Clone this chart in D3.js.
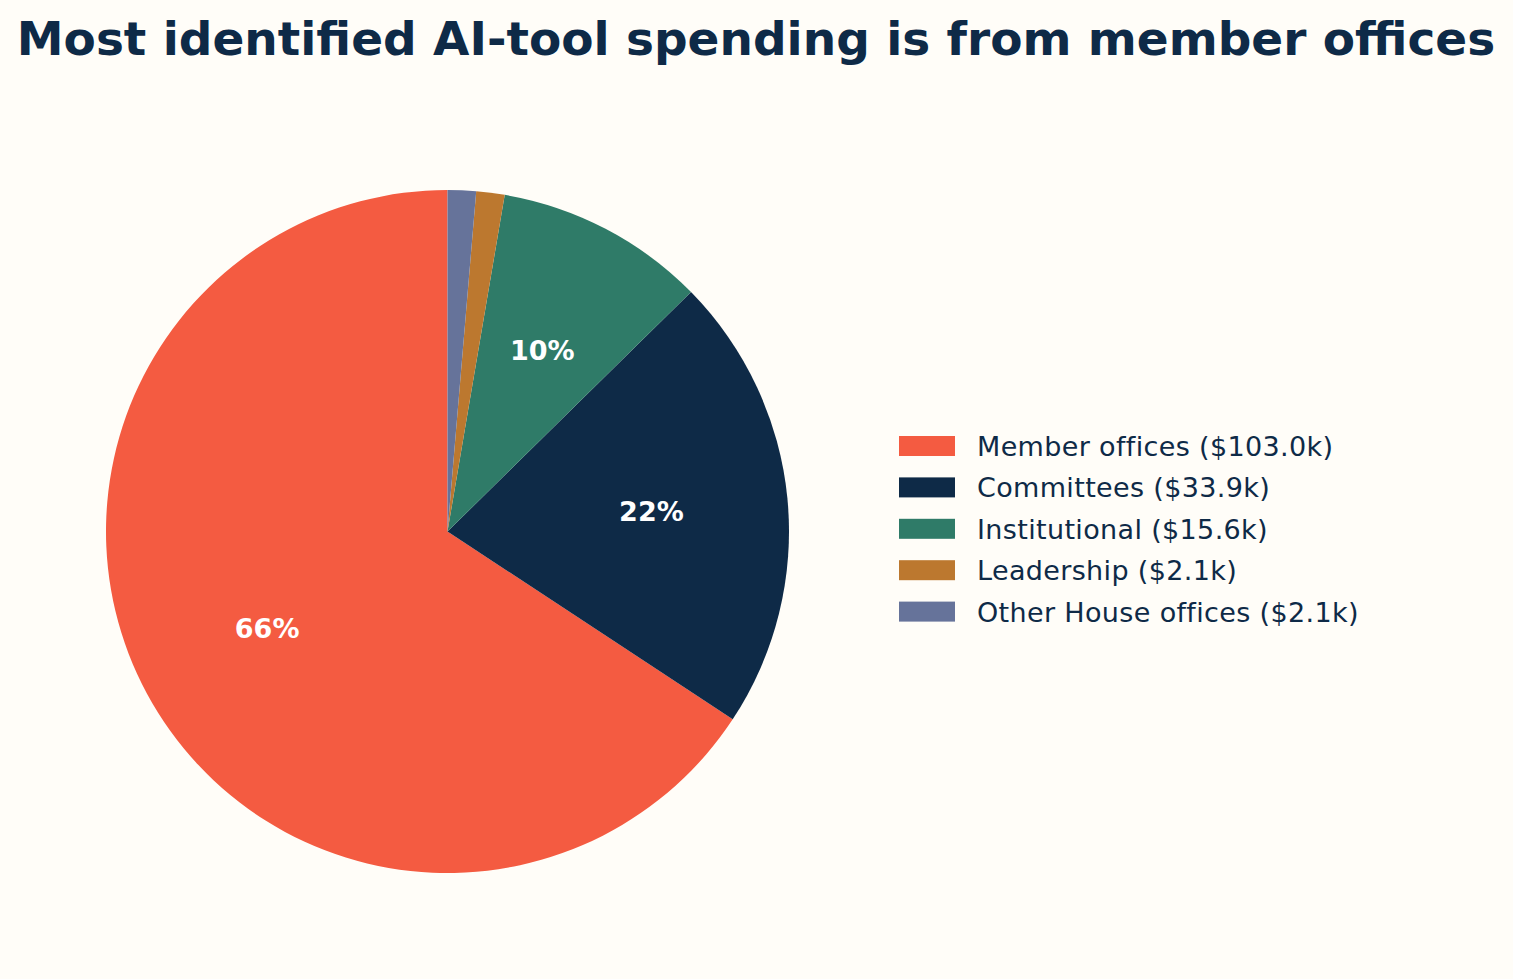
<!DOCTYPE html>
<html>
<head>
<meta charset="utf-8">
<script src="https://cdn.jsdelivr.net/npm/d3@7"></script>
<style>
  html, body { margin: 0; padding: 0; background: #fffdf8; }
  svg { display: block; }
</style>
</head>
<body>
<svg id="chart" width="1513" height="979"></svg>
<script>
// data
const categories = ["Member offices", "Committees", "Institutional", "Leadership", "Other House offices"];
const spending = [103.0, 33.9, 15.6, 2.1, 2.1]; // $k
const colors = ["#f45b41", "#0e2a47", "#2f7b68", "#bc782f", "#66739a"];

const W = 1513, H = 979;
const svg = d3.select("#chart");
const ink = "#0e2a47";

svg.append("rect").attr("width", W).attr("height", H).attr("fill", "#fffdf8");

svg.append("text")
  .attr("x", 756).attr("y", 55)
  .attr("text-anchor", "middle")
  .style("font", "bold 47px 'DejaVu Sans'")
  .attr("fill", ink)
  .text("Most identified AI-tool spending is from member offices");

const cx = 447.5, cy = 531.5, R = 341.5;
const total = d3.sum(spending);

// matplotlib style: start at 12 o'clock, go counter-clockwise
const pie = d3.pie().sort(null).startAngle(0).endAngle(-2 * Math.PI);
const arcs = pie(spending);
const arc = d3.arc().innerRadius(0).outerRadius(R);
const labelArc = d3.arc().innerRadius(R * 0.6).outerRadius(R * 0.6);

const g = svg.append("g").attr("transform", `translate(${cx},${cy})`);
g.selectAll("path.slice")
  .data(arcs)
  .join("path")
  .attr("class", "slice")
  .attr("d", arc)
  .attr("fill", (d, i) => colors[i]);

g.selectAll("text.pct")
  .data(arcs.filter(d => d.value / total >= 0.03))
  .join("text")
  .attr("class", "pct")
  .attr("transform", d => `translate(${labelArc.centroid(d)})`)
  .attr("text-anchor", "middle")
  .attr("dy", "0.36em")
  .attr("fill", "#ffffff")
  .style("font", "bold 27px 'DejaVu Sans'")
  .text(d => Math.round(d.value / total * 100) + "%");

// legend
const legend = svg.append("g").attr("transform", "translate(899,436)");
const row = legend.selectAll("g")
  .data(categories)
  .join("g")
  .attr("transform", (d, i) => `translate(0,${i * 41.4})`);
row.append("rect")
  .attr("width", 56).attr("height", 20)
  .attr("fill", (d, i) => colors[i]);
row.append("text")
  .attr("x", 78).attr("y", 20)
  .attr("fill", ink)
  .style("font", "27px 'DejaVu Sans'")
  .style("letter-spacing", "0.35px")
  .text((d, i) => `${d} ($${spending[i].toFixed(1)}k)`);
</script>
</body>
</html>
